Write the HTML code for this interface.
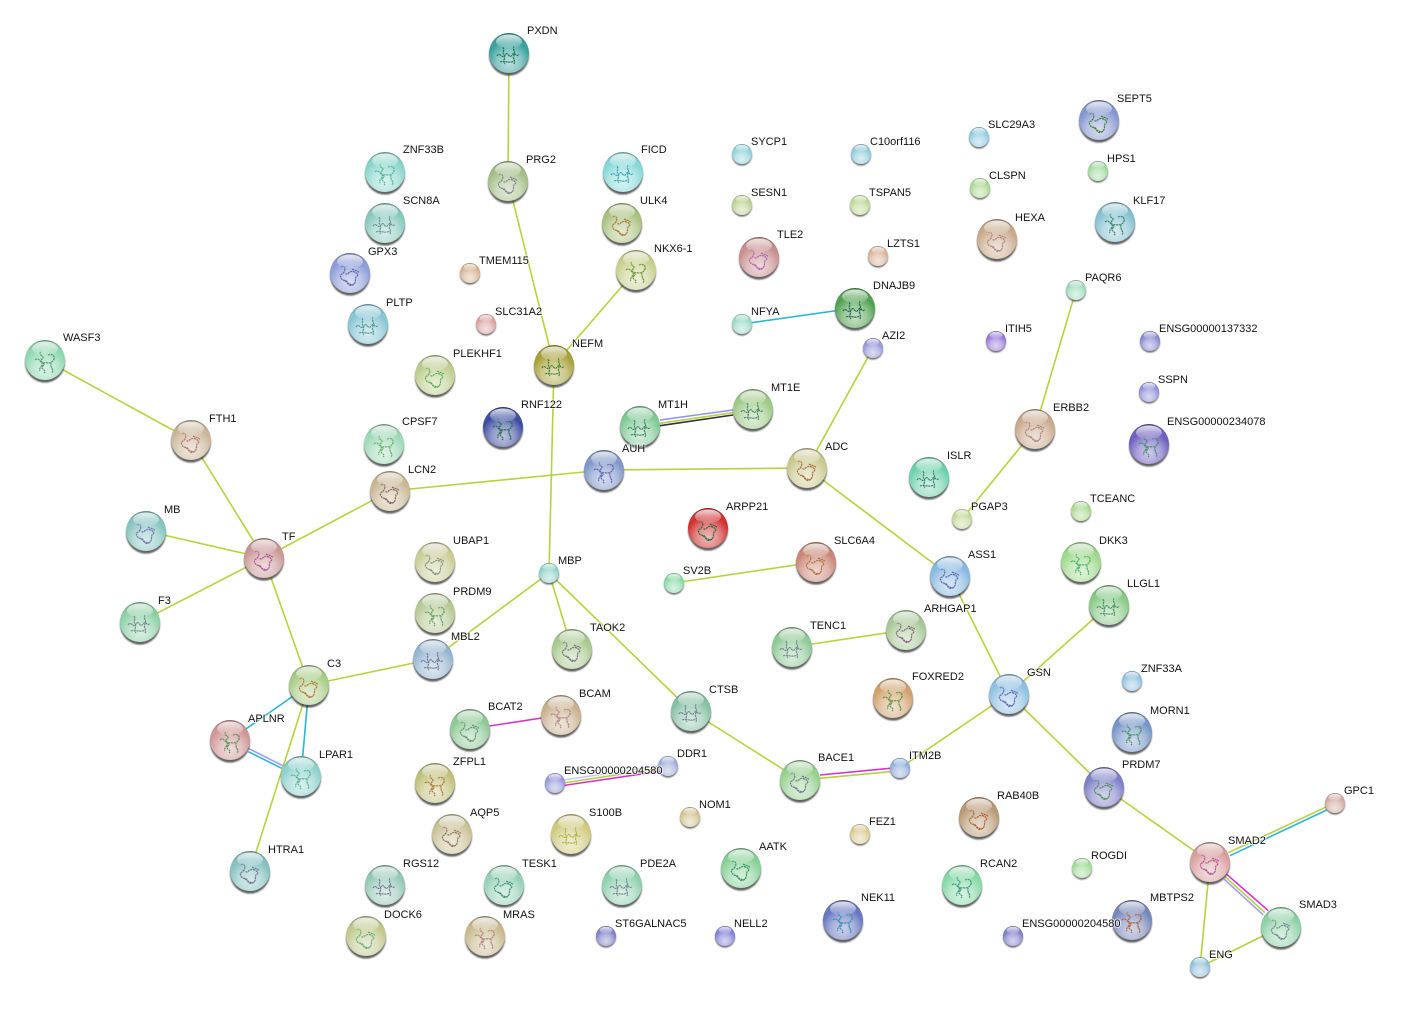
<!DOCTYPE html>
<html><head><meta charset="utf-8"><style>
html,body{margin:0;padding:0;background:#fff}
svg{display:block}
text{font:11px "Liberation Sans",Arial,sans-serif;fill:#111;paint-order:stroke;stroke:rgba(255,255,255,.65);stroke-width:2px}
.o line{stroke:#b5d33c}
line{stroke-width:1.6}
.p{fill:none;stroke:currentColor;stroke-width:1.2;stroke-dasharray:2.2 .6;opacity:.85}
</style></head><body>
<svg width="1405" height="1012" viewBox="0 0 1405 1012" xmlns="http://www.w3.org/2000/svg">
<defs>
<radialGradient id="b" cx="50%" cy="74%" r="72%">
<stop offset="0" stop-color="#fff" stop-opacity=".68"/><stop offset=".42" stop-color="#fff" stop-opacity=".42"/><stop offset=".78" stop-color="#fff" stop-opacity="0"/><stop offset="1" stop-color="#000" stop-opacity=".3"/>
</radialGradient>
<linearGradient id="h" x1="0" y1="0" x2="0" y2="1"><stop offset="0" stop-color="#fff" stop-opacity=".8"/><stop offset="1" stop-color="#fff" stop-opacity=".08"/></linearGradient>
<filter id="f" x="-20%" y="-20%" width="140%" height="140%"><feGaussianBlur stdDeviation=".9"/></filter>
<g id="B">
<circle cy="2.6" r="20" fill="#222" opacity=".7" filter="url(#f)"/>
</g>
<g id="L">
<use href="#B"/>
<circle r="20"/>
<circle r="20" fill="url(#b)"/>
<path class="p" d="M-9-6c3-3 5 2 3 5s-5 2-3 6 5 1 6 4 4 5 7 2 0-6 3-8-4-6-7-4-3 3-5 1M-5 8c3 2 6 5 9 3M2-4c3 2 6 1 7 4"/>
<ellipse cy="-11.5" rx="13" ry="7" fill="url(#h)"/>
</g>
<g id="M">
<use href="#B"/>
<circle r="20"/>
<circle r="20" fill="url(#b)"/>
<path class="p" d="M-12 3c3-5 5 4 8-1s4 5 7 0 4 4 7-1M-6-6c2 3-1 5 1 8s-2 6 1 9M5-7c-2 4 2 5 0 9s2 5 0 9M-9 9c4-2 9 2 14-1"/>
<ellipse cy="-11.5" rx="13" ry="7" fill="url(#h)"/>
</g>
<g id="N">
<use href="#B"/>
<circle r="20"/>
<circle r="20" fill="url(#b)"/>
<path class="p" d="M-4-8c-4 3 5 4 1 7s5 4 1 7 5 4 1 7M-10 0c3-3 5 1 7 3s-4 5-2 8M3-5c4-2 7 1 6 4s-4 3-3 7 3 4 1 7M-2 3c3-1 6 1 8-1"/>
<ellipse cy="-11.5" rx="13" ry="7" fill="url(#h)"/>
</g>
<g id="S">
<circle cy="1.6" r="10" fill="#222" opacity=".65" filter="url(#f)"/>
<circle r="10"/>
<circle r="10" fill="url(#b)"/>
<ellipse cy="-5.8" rx="6.4" ry="3.4" fill="url(#h)"/>
</g>
</defs>

<g class="o">
<line x1="509" y1="53" x2="508" y2="181"/>
<line x1="508" y1="181" x2="554" y2="365"/>
<line x1="636" y1="270" x2="554" y2="365"/>
<line x1="554" y1="365" x2="549" y2="573"/>
<line x1="45" y1="360" x2="191" y2="440"/>
<line x1="191" y1="440" x2="264" y2="558"/>
<line x1="146" y1="531" x2="264" y2="558"/>
<line x1="140" y1="622" x2="264" y2="558"/>
<line x1="264" y1="558" x2="390" y2="491"/>
<line x1="264" y1="558" x2="309" y2="685"/>
<line x1="390" y1="491" x2="604" y2="470"/>
<line x1="604" y1="470" x2="807" y2="468"/>
<line x1="807" y1="468" x2="873" y2="348"/>
<line x1="807" y1="468" x2="950" y2="576"/>
<line x1="950" y1="576" x2="1009" y2="694"/>
<line x1="1009" y1="694" x2="1109" y2="605"/>
<line x1="1009" y1="694" x2="900" y2="768"/>
<line x1="1009" y1="694" x2="1104" y2="787"/>
<line x1="1104" y1="787" x2="1210" y2="862"/>
<line x1="1210" y1="862" x2="1200" y2="967"/>
<line x1="1200" y1="967" x2="1281" y2="927"/>
<line x1="1035" y1="429" x2="1076" y2="290"/>
<line x1="1035" y1="429" x2="962" y2="519"/>
<line x1="549" y1="573" x2="433" y2="659"/>
<line x1="549" y1="573" x2="572" y2="649"/>
<line x1="549" y1="573" x2="691" y2="711"/>
<line x1="691" y1="711" x2="800" y2="780"/>
<line x1="309" y1="685" x2="433" y2="659"/>
<line x1="309" y1="685" x2="250" y2="871"/>
<line x1="674" y1="583" x2="816" y2="562"/>
<line x1="792" y1="647" x2="906" y2="630"/>
<line x1="660" y1="423.3" x2="733" y2="412.7"/>
<line x1="820" y1="778.3" x2="890" y2="771.7"/>
<line x1="1228.3" y1="852.7" x2="1326.7" y2="806.7"/>
<line x1="1225" y1="876.7" x2="1265" y2="912.7"/>
<line x1="560" y1="783.5" x2="665" y2="767.5"/>
</g>
<g>
<line x1="742" y1="324" x2="855" y2="308" stroke="#2bb5d8"/>
<line x1="309" y1="685" x2="230" y2="740" stroke="#2bb5d8"/>
<line x1="309" y1="685" x2="301" y2="776" stroke="#2bb5d8"/>
<line x1="248.3" y1="751.7" x2="281.7" y2="768.3" stroke="#2bb5d8"/>
<line x1="248.3" y1="748.3" x2="283.3" y2="766" stroke="#a0a0ff"/>
<line x1="660" y1="420" x2="733" y2="410" stroke="#9090ff"/>
<line x1="660" y1="425.7" x2="733" y2="415" stroke="#333"/>
<line x1="820" y1="775" x2="890" y2="768.3" stroke="#d830d0"/>
<line x1="470" y1="729" x2="561" y2="715" stroke="#d830d0"/>
<line x1="1230" y1="855.7" x2="1326.7" y2="810" stroke="#2bb5d8"/>
<line x1="1226.7" y1="874.3" x2="1268.3" y2="910.7" stroke="#d830d0"/>
<line x1="1224" y1="879" x2="1263.3" y2="915" stroke="#a0a0ff"/>
<line x1="560" y1="780.5" x2="665" y2="765" stroke="#c8c8ff"/>
<line x1="560" y1="786" x2="665" y2="770.5" stroke="#d830d0"/>
</g>

<use href="#M" x="509" y="53" fill="#35a09c" color="#164"/>
<use href="#L" x="508" y="181" fill="#a3bd86" color="#778"/>
<use href="#N" x="385" y="172" fill="#86d6cb" color="#4a8"/>
<use href="#M" x="385" y="223" fill="#86c8bd" color="#587"/>
<use href="#L" x="350" y="273" fill="#8a9bd8" color="#559"/>
<use href="#M" x="368" y="324" fill="#84c4d4" color="#488"/>
<use href="#N" x="45" y="360" fill="#8cd8ae" color="#486"/>
<use href="#L" x="191" y="440" fill="#c8b596" color="#a66"/>
<use href="#N" x="384" y="444" fill="#9cd8b6" color="#5a5"/>
<use href="#L" x="390" y="491" fill="#c8b692" color="#755"/>
<use href="#L" x="146" y="531" fill="#84c4be" color="#66a"/>
<use href="#L" x="264" y="558" fill="#c89694" color="#a48"/>
<use href="#M" x="140" y="622" fill="#8ad0a4" color="#678"/>
<use href="#L" x="435" y="562" fill="#c8cc94" color="#787"/>
<use href="#N" x="435" y="613" fill="#b6c894" color="#595"/>
<use href="#M" x="433" y="659" fill="#94b4d0" color="#668"/>
<use href="#L" x="309" y="685" fill="#a6cc84" color="#b62"/>
<use href="#N" x="230" y="740" fill="#d09494" color="#484"/>
<use href="#N" x="301" y="776" fill="#8cd0cc" color="#4a8"/>
<use href="#L" x="250" y="871" fill="#84c0c0" color="#668"/>
<use href="#M" x="385" y="885" fill="#94c8b6" color="#668"/>
<use href="#L" x="366" y="936" fill="#c0c88c" color="#5a6"/>
<use href="#N" x="485" y="936" fill="#c8b88c" color="#a77"/>
<use href="#L" x="504" y="885" fill="#94d0b6" color="#286"/>
<use href="#M" x="571" y="834" fill="#d0c87c" color="#aa2"/>
<use href="#L" x="452" y="834" fill="#c8c094" color="#865"/>
<use href="#N" x="435" y="783" fill="#c0c07c" color="#a62"/>
<use href="#L" x="470" y="729" fill="#8cc894" color="#586"/>
<use href="#N" x="561" y="715" fill="#c8b08c" color="#a77"/>
<use href="#L" x="572" y="649" fill="#a6c88c" color="#667"/>
<use href="#S" x="549" y="573" fill="#8cd0c8"/>
<use href="#N" x="503" y="427" fill="#3848a0" color="#163"/>
<use href="#L" x="435" y="375" fill="#bccc8c" color="#4a4"/>
<use href="#M" x="554" y="365" fill="#a8a038" color="#372"/>
<use href="#S" x="470" y="273" fill="#d8b08c"/>
<use href="#S" x="486" y="324" fill="#d8a09c"/>
<use href="#N" x="636" y="270" fill="#c8d08c" color="#582"/>
<use href="#M" x="623" y="172" fill="#84d8d8" color="#29a"/>
<use href="#L" x="622" y="223" fill="#a8c07c" color="#a62"/>
<use href="#S" x="742" y="154" fill="#8cd0d8"/>
<use href="#S" x="742" y="205" fill="#b8d08c"/>
<use href="#S" x="861" y="154" fill="#8cc8d8"/>
<use href="#S" x="860" y="205" fill="#b8d88c"/>
<use href="#S" x="878" y="256" fill="#d8b094"/>
<use href="#L" x="759" y="257" fill="#c88c8c" color="#a5a"/>
<use href="#S" x="742" y="324" fill="#94d8c4"/>
<use href="#M" x="855" y="308" fill="#4ca04c" color="#154"/>
<use href="#S" x="873" y="348" fill="#9494d8"/>
<use href="#S" x="979" y="137" fill="#8cc8e0"/>
<use href="#S" x="980" y="188" fill="#a8d88c"/>
<use href="#L" x="997" y="239" fill="#c8a888" color="#a77"/>
<use href="#L" x="1099" y="120" fill="#8494d0" color="#372"/>
<use href="#S" x="1098" y="171" fill="#9cd89c"/>
<use href="#N" x="1115" y="222" fill="#84c0d0" color="#275"/>
<use href="#S" x="1076" y="290" fill="#9cd8bc"/>
<use href="#S" x="996" y="341" fill="#9474d8"/>
<use href="#S" x="1150" y="341" fill="#8484d0"/>
<use href="#S" x="1149" y="392" fill="#8c8cd8"/>
<use href="#N" x="1149" y="444" fill="#6c5cc0" color="#385"/>
<use href="#L" x="1035" y="429" fill="#c8a88c" color="#a77"/>
<use href="#M" x="929" y="477" fill="#6cd0ac" color="#276"/>
<use href="#S" x="962" y="519" fill="#c0d894"/>
<use href="#S" x="1081" y="511" fill="#a8d88c"/>
<use href="#N" x="1081" y="562" fill="#9cd88c" color="#3a5"/>
<use href="#M" x="1109" y="605" fill="#84c884" color="#385"/>
<use href="#L" x="950" y="576" fill="#84b8e0" color="#55a"/>
<use href="#L" x="807" y="468" fill="#c8c88c" color="#a52"/>
<use href="#N" x="604" y="470" fill="#7c94c8" color="#55a"/>
<use href="#M" x="640" y="426" fill="#7cc894" color="#275"/>
<use href="#M" x="753" y="409" fill="#9cc884" color="#375"/>
<use href="#L" x="708" y="528" fill="#d02c2c" color="#163"/>
<use href="#L" x="816" y="562" fill="#c88474" color="#a62"/>
<use href="#S" x="674" y="583" fill="#84d8a4"/>
<use href="#L" x="906" y="630" fill="#a6c894" color="#757"/>
<use href="#M" x="792" y="647" fill="#8cc894" color="#678"/>
<use href="#N" x="893" y="698" fill="#d0a06c" color="#483"/>
<use href="#M" x="691" y="711" fill="#84c0a4" color="#678"/>
<use href="#S" x="668" y="766" fill="#9cacd8"/>
<use href="#S" x="555" y="783" fill="#9494d8"/>
<use href="#S" x="690" y="817" fill="#d0c08c"/>
<use href="#L" x="800" y="780" fill="#94d08c" color="#668"/>
<use href="#S" x="900" y="768" fill="#8cacd8"/>
<use href="#S" x="860" y="834" fill="#d8c88c"/>
<use href="#L" x="1009" y="694" fill="#8cc0e0" color="#55a"/>
<use href="#S" x="1132" y="681" fill="#8cc0e0"/>
<use href="#N" x="1132" y="732" fill="#7494c8" color="#385"/>
<use href="#L" x="1104" y="787" fill="#7c7cc8" color="#484"/>
<use href="#L" x="979" y="817" fill="#b89874" color="#a52"/>
<use href="#N" x="962" y="885" fill="#84d8a4" color="#287"/>
<use href="#S" x="1082" y="868" fill="#9cd894"/>
<use href="#L" x="741" y="868" fill="#84d094" color="#285"/>
<use href="#M" x="622" y="885" fill="#8cd0ac" color="#678"/>
<use href="#N" x="843" y="920" fill="#6474c0" color="#28a"/>
<use href="#S" x="725" y="936" fill="#7c7cd8"/>
<use href="#S" x="606" y="936" fill="#7c7cc8"/>
<use href="#S" x="1013" y="936" fill="#7c7cc8"/>
<use href="#N" x="1132" y="920" fill="#7484b8" color="#a52"/>
<use href="#L" x="1210" y="862" fill="#d89c9c" color="#a48"/>
<use href="#L" x="1281" y="927" fill="#8cd0a4" color="#678"/>
<use href="#S" x="1200" y="967" fill="#8cc0d8"/>
<use href="#S" x="1335" y="803" fill="#d0a89c"/>

<text x="527" y="34">PXDN</text>
<text x="526" y="163">PRG2</text>
<text x="403" y="153">ZNF33B</text>
<text x="403" y="204">SCN8A</text>
<text x="368" y="255">GPX3</text>
<text x="386" y="306">PLTP</text>
<text x="63" y="341">WASF3</text>
<text x="209" y="422">FTH1</text>
<text x="402" y="425">CPSF7</text>
<text x="408" y="473">LCN2</text>
<text x="164" y="513">MB</text>
<text x="282" y="540">TF</text>
<text x="158" y="604">F3</text>
<text x="453" y="544">UBAP1</text>
<text x="453" y="595">PRDM9</text>
<text x="451" y="640">MBL2</text>
<text x="327" y="667">C3</text>
<text x="248" y="722">APLNR</text>
<text x="319" y="758">LPAR1</text>
<text x="268" y="853">HTRA1</text>
<text x="403" y="867">RGS12</text>
<text x="384" y="918">DOCK6</text>
<text x="503" y="918">MRAS</text>
<text x="522" y="867">TESK1</text>
<text x="589" y="816">S100B</text>
<text x="470" y="816">AQP5</text>
<text x="453" y="765">ZFPL1</text>
<text x="488" y="710">BCAT2</text>
<text x="579" y="697">BCAM</text>
<text x="590" y="631">TAOK2</text>
<text x="558" y="564">MBP</text>
<text x="521" y="408">RNF122</text>
<text x="453" y="357">PLEKHF1</text>
<text x="572" y="347">NEFM</text>
<text x="479" y="264">TMEM115</text>
<text x="495" y="315">SLC31A2</text>
<text x="654" y="252">NKX6-1</text>
<text x="641" y="153">FICD</text>
<text x="640" y="204">ULK4</text>
<text x="751" y="145">SYCP1</text>
<text x="751" y="196">SESN1</text>
<text x="870" y="145">C10orf116</text>
<text x="869" y="196">TSPAN5</text>
<text x="887" y="247">LZTS1</text>
<text x="777" y="238">TLE2</text>
<text x="751" y="315">NFYA</text>
<text x="873" y="289">DNAJB9</text>
<text x="882" y="339">AZI2</text>
<text x="988" y="128">SLC29A3</text>
<text x="989" y="179">CLSPN</text>
<text x="1015" y="221">HEXA</text>
<text x="1117" y="102">SEPT5</text>
<text x="1107" y="162">HPS1</text>
<text x="1133" y="204">KLF17</text>
<text x="1085" y="281">PAQR6</text>
<text x="1005" y="332">ITIH5</text>
<text x="1159" y="332">ENSG00000137332</text>
<text x="1158" y="383">SSPN</text>
<text x="1167" y="425">ENSG00000234078</text>
<text x="1053" y="411">ERBB2</text>
<text x="947" y="459">ISLR</text>
<text x="971" y="510">PGAP3</text>
<text x="1090" y="502">TCEANC</text>
<text x="1099" y="544">DKK3</text>
<text x="1127" y="587">LLGL1</text>
<text x="968" y="558">ASS1</text>
<text x="825" y="450">ADC</text>
<text x="622" y="452">AUH</text>
<text x="658" y="408">MT1H</text>
<text x="771" y="391">MT1E</text>
<text x="726" y="510">ARPP21</text>
<text x="834" y="544">SLC6A4</text>
<text x="683" y="574">SV2B</text>
<text x="924" y="612">ARHGAP1</text>
<text x="810" y="629">TENC1</text>
<text x="912" y="680">FOXRED2</text>
<text x="709" y="693">CTSB</text>
<text x="677" y="757">DDR1</text>
<text x="564" y="774">ENSG00000204580</text>
<text x="699" y="808">NOM1</text>
<text x="818" y="761">BACE1</text>
<text x="909" y="759">ITM2B</text>
<text x="869" y="825">FEZ1</text>
<text x="1027" y="676">GSN</text>
<text x="1141" y="672">ZNF33A</text>
<text x="1150" y="714">MORN1</text>
<text x="1122" y="768">PRDM7</text>
<text x="997" y="799">RAB40B</text>
<text x="980" y="867">RCAN2</text>
<text x="1091" y="859">ROGDI</text>
<text x="759" y="850">AATK</text>
<text x="640" y="867">PDE2A</text>
<text x="861" y="901">NEK11</text>
<text x="734" y="927">NELL2</text>
<text x="615" y="927">ST6GALNAC5</text>
<text x="1022" y="927">ENSG00000204580</text>
<text x="1150" y="901">MBTPS2</text>
<text x="1228" y="844">SMAD2</text>
<text x="1299" y="908">SMAD3</text>
<text x="1209" y="958">ENG</text>
<text x="1344" y="794">GPC1</text>
</svg>
</body></html>
